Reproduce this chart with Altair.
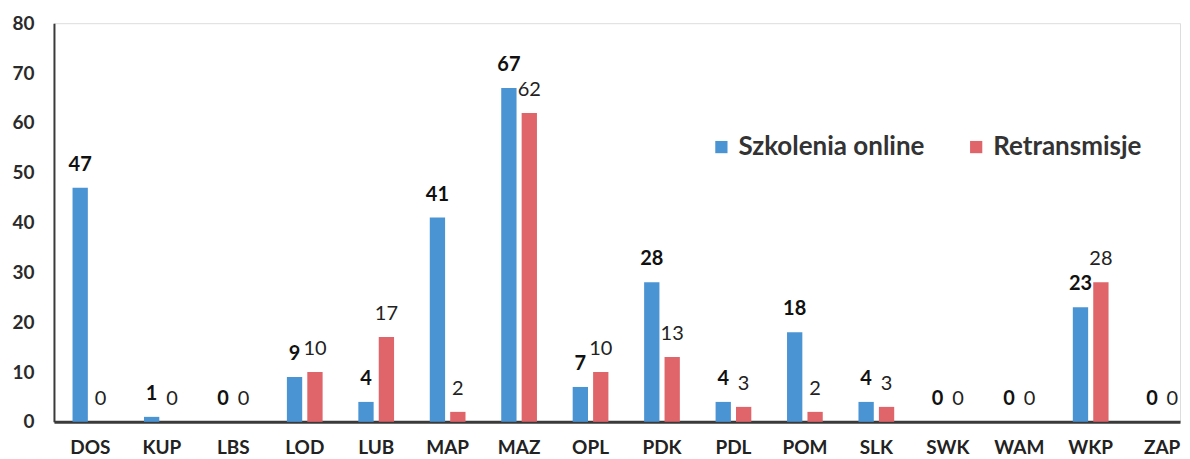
import altair as alt
import pandas as pd

regions = ["DOS", "KUP", "LBS", "LOD", "LUB", "MAP", "MAZ", "OPL",
           "PDK", "PDL", "POM", "SLK", "SWK", "WAM", "WKP", "ZAP"]
online = [47, 1, 0, 9, 4, 41, 67, 7, 28, 4, 18, 4, 0, 0, 23, 0]
retrans = [0, 0, 0, 10, 17, 2, 62, 10, 13, 3, 2, 3, 0, 0, 28, 0]
series_names = ["Szkolenia online", "Retransmisje"]
colors = ["#4b94d3", "#e0656a"]
y_ticks = [0, 10, 20, 30, 40, 50, 60, 70, 80]

rows = []
for r, a, b in zip(regions, online, retrans):
    rows.append({"region": r, "series": series_names[0], "value": a})
    rows.append({"region": r, "series": series_names[1], "value": b})
df = pd.DataFrame(rows)

FONT = "Lato"

x = alt.X("region:N", sort=regions,
          scale=alt.Scale(paddingInner=0.5, paddingOuter=0.13, align=1),
          axis=alt.Axis(title=None, labelAngle=0, ticks=False, labelPadding=17,
                        labelFontSize=19, labelFontWeight="bold", labelFont=FONT,
                        labelColor="#222222", domainColor="#3a3a3a", domainWidth=3))
xo = alt.XOffset("series:N", sort=series_names, scale=alt.Scale(paddingInner=0.25))
y = alt.Y("value:Q", scale=alt.Scale(domain=[0, 80]),
          axis=alt.Axis(title=None, values=y_ticks, ticks=False, grid=False,
                        labelPadding=20, labelFontSize=19, labelFontWeight="bold",
                        labelFont=FONT, labelColor="#2a2a2a",
                        domainColor="#3a3a3a", domainWidth=2))

base = alt.Chart(df)

bars = base.mark_bar().encode(
    x=x, xOffset=xo, y=y,
    color=alt.Color("series:N", sort=series_names,
                    scale=alt.Scale(domain=series_names, range=colors),
                    legend=alt.Legend(title=None, orient="none", direction="horizontal",
                                      legendX=655, legendY=111, symbolType="square",
                                      symbolSize=150, symbolStrokeWidth=0,
                                      labelFontSize=26, labelFont=FONT, labelLimit=0,
                                      labelFontWeight="bold", labelColor="#333333",
                                      columnPadding=38, labelOffset=4))
)

txt_online = base.transform_filter(alt.datum.series == series_names[0]).mark_text(
    baseline="bottom", dy=-13, fontSize=20, fontWeight="bold", font=FONT, color="#111111"
).encode(x=x, xOffset=xo, y=y, text="value:Q")

txt_re = base.transform_filter(alt.datum.series == series_names[1]).mark_text(
    baseline="bottom", dy=-13, fontSize=20, fontWeight="normal", font=FONT, color="#222222"
).encode(x=x, xOffset=xo, y=y, text="value:Q")

chart = alt.layer(bars, txt_online, txt_re).properties(
    width=1127, height=399,
    autosize=alt.AutoSizeParams(type="none"),
    padding={"left": 46, "top": 15, "right": 2, "bottom": 36},
).configure_view(stroke=None).configure(background="white")

chart.save("out.html", embed_options={"renderer": "svg", "actions": False})
